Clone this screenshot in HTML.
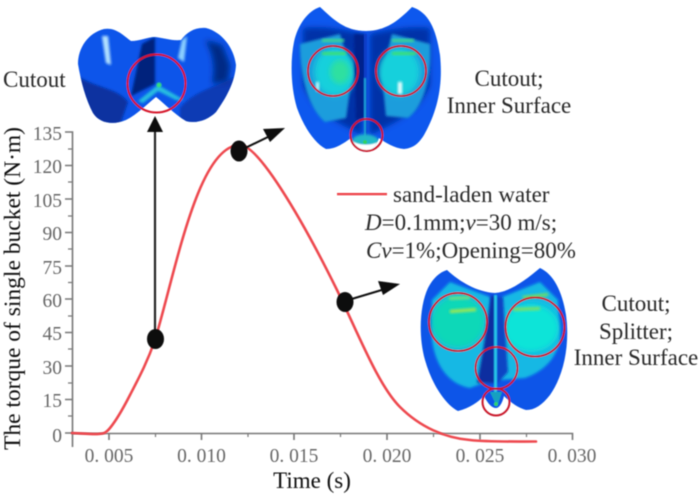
<!DOCTYPE html>
<html><head><meta charset="utf-8"><style>
html,body{margin:0;padding:0;background:#fff;width:700px;height:498px;overflow:hidden}
svg{display:block}
text{font-family:"Liberation Serif",serif}
</style></head><body>
<svg width="700" height="498" viewBox="0 0 700 498" xmlns="http://www.w3.org/2000/svg">
<defs>
<filter id="b1" x="-10%" y="-10%" width="120%" height="120%"><feGaussianBlur stdDeviation="0.55"/></filter>
<filter id="b2" x="-30%" y="-30%" width="160%" height="160%"><feGaussianBlur stdDeviation="1.3"/></filter>
<filter id="b3" x="-30%" y="-30%" width="160%" height="160%"><feGaussianBlur stdDeviation="3"/></filter>
<clipPath id="c1"><path d="M78 64C78 48 88 33 104 29C116 27 124 36 131 41C140 41 148 37 155 37C164 38 172 41 181 40C187 32 195 27 206 28C222 32 234 48 236 65C235 82 226 98 216 112C208 120 196 124 186 121C174 114 165 104 156 97C147 104 138 114 126 120C114 125 100 124 93 113C86 100 81 82 78 64Z"/></clipPath>
<clipPath id="c2"><path d="M320 7C334 20 345 31 366 31C387 31 400 19 412 7C428 12 436 28 440 55C443 85 438 110 424 135C419 143 414 148 404 149C394 148 386 143 379 138C376 146 372 151 365 152C358 151 354 146 351 138C344 143 336 149 326 149C314 143 303 125 297 108C291 88 290 62 294 42C298 24 308 11 320 7Z"/></clipPath>
<clipPath id="c3"><path d="M447 270C460 282 477 292 495 293C510 292 527 279 540 268C553 274 562 290 566 315C570 345 564 375 550 395C542 405 535 410 526 410C518 408 510 402 504 396C502 404 499 408 496 408C492 408 488 404 484 396C478 402 470 408 458 411C446 405 432 385 425 360C418 335 420 305 428 288C433 278 440 272 447 270Z"/></clipPath>
</defs>

<!-- bucket 1 -->
<g filter="url(#b1)">
<g clip-path="url(#c1)">
<rect x="70" y="20" width="175" height="110" fill="#0a55ea"/>
<path d="M78 76C95 88 118 88 128 102L120 125L78 125Z" fill="#0730a0" filter="url(#b2)"/>
<path d="M180 108C195 90 215 88 236 76L236 125L180 125Z" fill="#083ab4" filter="url(#b2)"/>
<path d="M205 40L222 45L230 65L228 82L212 84C216 68 213 52 205 40Z" fill="#052a85" filter="url(#b3)"/>
<path d="M155 37L142 44L131 96L155 84Z" fill="#04237c" filter="url(#b2)"/>
<path d="M102 36L108 36L111 65L106 63Z" fill="#b4e2ff" filter="url(#b2)"/>
<path d="M182 40L187 36L184 62L178 58Z" fill="#8cd0ff" filter="url(#b2)"/>
<path d="M138 101L158 85L184 100L176 100L158 91L143 103Z" fill="#25c0e0" filter="url(#b2)"/>
<circle cx="159" cy="85" r="2.500" fill="#35e07a" filter="url(#b1)"/>
</g>
<circle cx="156.500" cy="83.500" r="29" fill="none" stroke="#d5152c" stroke-width="2"/>
</g>

<!-- bucket 2 -->
<g filter="url(#b1)">
<g clip-path="url(#c2)">
<rect x="285" y="0" width="160" height="155" fill="#0b58ee"/>
<path d="M303 28C325 26 345 30 362 34L362 135C345 125 315 115 303 85Z" fill="#0530a8" filter="url(#b3)"/>
<path d="M430 28C410 26 388 30 370 34L370 135C388 125 418 115 430 85Z" fill="#0530a8" filter="url(#b3)"/>
<path d="M300 44L340 34L352 75L346 118L325 122C310 110 300 80 300 44Z" fill="#1a9ddc" filter="url(#b2)"/>
<path d="M430 44L392 34L382 75L386 116L408 118C422 108 432 80 430 44Z" fill="#1a9ddc" filter="url(#b2)"/>
<ellipse cx="335" cy="72" rx="21" ry="24" fill="#18d0dc" filter="url(#b3)"/>
<ellipse cx="399" cy="72" rx="21" ry="24" fill="#18d0dc" filter="url(#b3)"/>
<ellipse cx="340" cy="72" rx="10" ry="12" fill="#2fe0a0" filter="url(#b3)"/>
<rect x="322" y="52" width="24" height="3" fill="#40e070" filter="url(#b2)"/>
<rect x="392" y="52" width="24" height="3" fill="#40e070" filter="url(#b2)"/>
<rect x="322" y="39" width="22" height="3" fill="#40d890" filter="url(#b2)"/>
<rect x="392" y="39" width="22" height="3" fill="#40d890" filter="url(#b2)"/>
<rect x="316" y="82" width="3" height="9" fill="#d0ffff" filter="url(#b2)"/>
<rect x="398" y="82" width="4" height="12" fill="#f0ffff" filter="url(#b2)"/>
<path d="M354 34H365V118L356 120Z" fill="#04248c" filter="url(#b2)"/>
<rect x="364" y="34" width="3" height="105" fill="#0a3cc8"/>
<rect x="364" y="78" width="2" height="60" fill="#1ca8d8" filter="url(#b1)"/>
<path d="M352 140C356 132 376 132 380 142L380 146L352 146Z" fill="#20b8c8" filter="url(#b2)"/>
<path d="M351 140C358 146 374 146 381 140L376 154L356 154Z" fill="#ffffff" filter="url(#b1)"/>
<circle cx="365" cy="142" r="2" fill="#30d060"/>
</g>
<circle cx="333" cy="71" r="25" fill="none" stroke="#c9162a" stroke-width="2"/>
<circle cx="401" cy="71" r="25" fill="none" stroke="#c9162a" stroke-width="2"/>
<circle cx="366.500" cy="135" r="16" fill="none" stroke="#c9162a" stroke-width="2"/>
</g>

<!-- bucket 3 -->
<g filter="url(#b1)">
<g clip-path="url(#c3)">
<rect x="415" y="260" width="160" height="155" fill="#0b55e8"/>
<path d="M432 300L450 282L490 297L492 380L470 388C452 385 436 370 432 340Z" fill="#18b8e4" filter="url(#b2)"/>
<path d="M558 300L540 282L502 297L500 380L525 378C542 372 556 360 560 340Z" fill="#18b8e4" filter="url(#b2)"/>
<ellipse cx="458" cy="322" rx="27" ry="26" fill="#10d8b8" filter="url(#b3)"/>
<ellipse cx="531" cy="328" rx="28" ry="24" fill="#10e4d8" filter="url(#b3)"/>
<path d="M491 296L495 296L495 383L477 383L483 350Z" fill="#0a2ea0" filter="url(#b2)"/>
<path d="M497 297H503L508 372L497 384Z" fill="#0a45c4" filter="url(#b2)"/>
<path d="M450 310L476 308L476 311L450 313Z" fill="#a8e84a" filter="url(#b2)"/>
<path d="M512 308L540 307L540 310L514 311Z" fill="#80e060" filter="url(#b2)"/>
<path d="M522 296L548 293L548 296L524 299Z" fill="#70e060" filter="url(#b2)"/>
<path d="M448 297L470 296L470 299L450 300Z" fill="#70e080" filter="url(#b2)"/>
<rect x="494" y="295" width="3" height="100" fill="#28c8e8" filter="url(#b1)"/>
<path d="M490 392L502 392L497 407Z" fill="#18a0c0"/>
<circle cx="496" cy="404" r="2" fill="#30d070"/>
</g>
<circle cx="458" cy="322" r="29" fill="none" stroke="#c9162a" stroke-width="2"/>
<circle cx="535" cy="327" r="29.500" fill="none" stroke="#c9162a" stroke-width="2"/>
<circle cx="496.500" cy="368" r="21" fill="none" stroke="#c9162a" stroke-width="2"/>
<circle cx="496" cy="402" r="13.500" fill="none" stroke="#c9162a" stroke-width="2"/>
</g>

<!-- axes -->
<g stroke="#777" stroke-width="1.600" fill="none" filter="url(#b1)">
<path d="M65 132H72.500V447"/>
<path d="M72 433.500H572.500V440"/>
<path d="M65 165.500H72M65 199H72M65 232.500H72M65 266H72M65 299H72M65 332.500H72M65 366H72M65 399.500H72M65 433H72"/>
<path d="M68 149H72M68 182H72M68 216H72M68 249H72M68 282.500H72M68 316H72M68 349H72M68 383H72M68 416H72" stroke-width="1.200"/>
<path d="M109 433V440M201.500 433V440M294 433V440M387 433V440M480 433V440"/>
<path d="M155.500 433V437M248 433V437M340.500 433V437M433.500 433V437M526.500 433V437" stroke-width="1.200"/>
</g>
<g fill="#666" text-anchor="end" filter="url(#b1)" style="font-size:19.500px">
<text x="62" y="140">135</text><text x="62" y="173">120</text><text x="62" y="207">105</text>
<text x="62" y="240">90</text><text x="62" y="274">75</text><text x="62" y="307">60</text>
<text x="62" y="340">45</text><text x="62" y="374">30</text><text x="62" y="407">15</text>
<text x="62" y="442">0</text>
</g>
<g fill="#666" text-anchor="middle" filter="url(#b1)" style="font-size:19.500px">
<text x="109" y="462">0. 005</text><text x="201.500" y="462">0. 010</text><text x="294" y="462">0. 015</text>
<text x="387" y="462">0. 020</text><text x="480" y="462">0. 025</text><text x="572" y="462">0. 030</text>
</g>

<!-- curve -->
<path d="M72 433C76 433 94 434.500 98 434C102 433.500 104.700 434.500 110 428C115.300 421.500 122.500 409.700 130 395C137.500 380.300 146.300 364.700 155 340C176 270 198 145 240 145C258 145 300 215 337 290C358 333 378 385 400 407C420 427 445 438 470 440C487 442 515 441.500 536 441.500" fill="none" stroke="#ee4a50" stroke-width="2.600" stroke-linecap="round" stroke-linejoin="round" filter="url(#b1)"/>

<!-- arrows -->
<g filter="url(#b1)">
<path d="M155 338V128" stroke="#222" stroke-width="2.200"/>
<path d="M147 132L155 116L163 132Z" fill="#111"/>
<path d="M239 151L270 136" stroke="#111" stroke-width="2"/>
<path d="M285 128L263 129L270 142Z" fill="#111"/>
<path d="M345 301L385 289" stroke="#111" stroke-width="2"/>
<path d="M400 284L378 281L383 295Z" fill="#111"/>
<ellipse cx="155.500" cy="339" rx="8.500" ry="10" fill="#0a0a0a"/>
<ellipse cx="239" cy="151" rx="8.500" ry="10.500" fill="#0a0a0a"/>
<ellipse cx="345" cy="302" rx="8.500" ry="10" fill="#0a0a0a"/>
</g>

<!-- legend -->
<rect x="337" y="192.800" width="50" height="2.500" fill="#ee4a50" filter="url(#b1)"/>
<g fill="#2a2a2a" filter="url(#b1)" style="font-size:23px">
<text x="393" y="202">sand-laden water</text>
<text x="365" y="230"><tspan font-style="italic">D</tspan>=0.1mm;<tspan font-style="italic">v</tspan>=30 m/s;</text>
<text x="366" y="258"><tspan font-style="italic">Cv</tspan>=1%;Opening=80%</text>
<text x="3" y="87">Cutout</text>
<text x="509" y="86" text-anchor="middle">Cutout;</text>
<text x="509" y="113" text-anchor="middle">Inner Surface</text>
<text x="636" y="311" text-anchor="middle">Cutout;</text>
<text x="636" y="339" text-anchor="middle">Splitter;</text>
<text x="636" y="365" text-anchor="middle">Inner Surface</text>
</g>
<text transform="translate(20,288.500) rotate(-90)" text-anchor="middle" fill="#111" filter="url(#b1)" style="font-size:23.500px">The torque of single bucket (N·m)</text>
<text x="312" y="488" text-anchor="middle" fill="#111" filter="url(#b1)" style="font-size:23px">Time (s)</text>
</svg>
</body></html>
